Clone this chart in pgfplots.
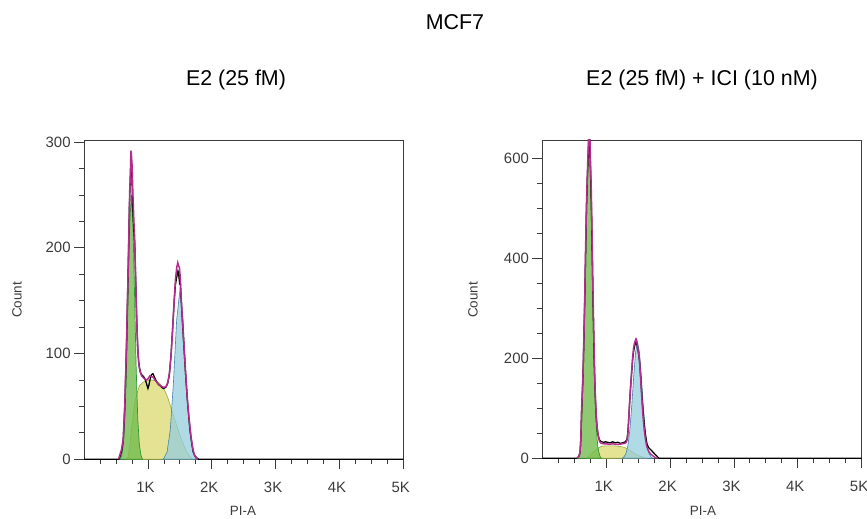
\documentclass[border=0pt]{standalone}
\usepackage{pgfplots}
\pgfplotsset{compat=1.18}
\usepackage{fontspec}
\setmainfont{Liberation Sans}

\definecolor{axgray}{RGB}{60,60,60}
\definecolor{g1fill}{RGB}{115,188,78}
\definecolor{g1line}{RGB}{50,150,50}
\definecolor{sfill}{RGB}{224,224,135}
\definecolor{sline}{RGB}{150,170,60}
\definecolor{g2fill}{RGB}{150,205,222}
\definecolor{g2line}{RGB}{70,130,170}
\definecolor{fitline}{RGB}{180,45,140}

\pgfplotsset{flowax/.style={
    scale only axis, width=319.2bp, height=319.3bp,
    xmin=0, xmax=5000, ymin=0,
    axis line style={axgray, line width=0.9bp},
    tick style={axgray, line width=0.8bp},
    tick align=outside, tick pos=left,
    major tick length=10bp, minor tick length=5bp,
    xtick={1000,2000,3000,4000,5000},
    xticklabels={1K,2K,3K,4K,5K},
    minor xtick={250,500,...,4750},
    ticklabel style={font=\fontsize{15}{17}\selectfont, text=axgray},
    xticklabel style={xshift=-2.5bp, yshift=-9bp},
    /pgf/number format/assume math mode=true,
    clip=true,
  },
  sfit/.style={fill=sfill, fill opacity=0.9, draw=sline, line width=0.6bp},
  g1fit/.style={fill=g1fill, fill opacity=0.8, draw=g1line, line width=0.7bp},
  g2fit/.style={fill=g2fill, fill opacity=0.75, draw=g2line, line width=0.6bp},
  rawdata/.style={black, line width=1.3bp},
  modelsum/.style={fitline, line width=1.5bp},
}

\begin{document}
\begin{tikzpicture}[x=1bp, y=1bp]
\useasboundingbox (0,0) rectangle (867,519);

% titles and axis labels
\node[font=\fontsize{21.5}{24}\selectfont] at (455,497) {MCF7};
\node[font=\fontsize{21.5}{24}\selectfont] at (236,439) {E2 (25 fM)};
\node[font=\fontsize{21.5}{24}\selectfont] at (702,439) {E2 (25 fM) + ICI (10 nM)};
\node[font=\fontsize{13.5}{16}\selectfont, text=axgray, rotate=90] at (17,219) {Count};
\node[font=\fontsize{13.5}{16}\selectfont, text=axgray, rotate=90] at (473,219) {Count};
\node[font=\fontsize{13.5}{16}\selectfont, text=axgray] at (243,8) {PI-A};
\node[font=\fontsize{13.5}{16}\selectfont, text=axgray] at (703,8) {PI-A};

% left: E2 (25 fM)
\begin{axis}[flowax, at={(84.1bp,59.7bp)}, anchor=south west,
  ymax=302, ytick={0,100,200,300}, minor ytick={25,50,...,300}]
\addplot[sfit] coordinates {(650,0) (690,2) (720,15) (741,28) (770,42) (793,53)
  (830,63) (871,70) (930,73) (1000,74.5) (1060,75) (1131,74) (1180,72) (1234,68)
  (1280,63) (1312,58) (1350,51) (1390,43) (1440,34) (1494,24) (1550,15)
  (1598,8) (1650,3) (1700,0)} \closedcycle;
\addplot[g1fit] coordinates {(565,0) (590,4) (615,14) (640,39) (665,88) (690,157)
  (715,223) (740,250) (765,223) (790,157) (815,88) (840,39) (865,14) (890,4)
  (915,0)} \closedcycle;
\addplot[g2fit] coordinates {(1230,0) (1250,1) (1300,7) (1350,28) (1400,73)
  (1450,132) (1500,160) (1550,132) (1600,73) (1650,28) (1700,7) (1750,1)
  (1770,0)} \closedcycle;
\addplot[rawdata] coordinates {(0,0) (545,0) (565,3) (590,8) (615,20) (640,55)
  (665,110) (690,180) (710,240) (725,268) (735,285) (745,278) (760,240)
  (780,215) (795,200) (810,165) (825,130) (840,105) (855,92) (870,86) (885,82)
  (900,80) (920,79) (945,77) (965,74) (985,70) (1000,67) (1015,70) (1035,76)
  (1055,80) (1078,81) (1100,78) (1130,74) (1160,71) (1200,69) (1240,67)
  (1280,68) (1310,72) (1335,80) (1360,97) (1385,122) (1410,148) (1430,165)
  (1450,172) (1470,178) (1480,176) (1490,170) (1500,175) (1515,158) (1540,130)
  (1565,105) (1590,80) (1615,58) (1640,40) (1665,25) (1690,14) (1715,6)
  (1740,3) (1770,1) (1800,0) (5000,0)};
\addplot[modelsum] coordinates {(540,0) (559,4) (585,9) (611,18) (637,50)
  (663,107) (689,176) (705,225) (715,255) (725,270) (733,292) (741,288)
  (750,280) (765,250) (780,225) (793,208) (806,175) (819,144) (832,118)
  (845,100) (858,90) (871,84) (900,79) (930,77) (975,75) (1000,76) (1030,79)
  (1060,78) (1078,78) (1110,75) (1150,72) (1208,69) (1250,68) (1286,69)
  (1312,73) (1338,82) (1364,100) (1390,126) (1410,150) (1431,170) (1450,181)
  (1467,186) (1480,183) (1494,181) (1507,170) (1520,154) (1546,127) (1572,100)
  (1597,76) (1623,53) (1650,35) (1676,21) (1700,11) (1727,4) (1760,1)
  (1780,0)};
\end{axis}

% right: E2 (25 fM) + ICI (10 nM)
\begin{axis}[flowax, at={(542.4bp,60.7bp)}, anchor=south west, height=318.3bp,
  ymax=637, ytick={0,200,400,600}, minor ytick={50,100,...,600}]
\addplot[sfit] coordinates {(700,0) (740,5) (780,10) (830,16) (880,21) (930,24)
  (1000,25) (1100,25) (1200,24) (1280,22) (1330,19) (1380,15) (1430,11)
  (1480,7) (1530,4) (1580,2) (1620,0)} \closedcycle;
\addplot[g1fit] coordinates {(560,0) (585,6) (600,25) (611,70) (624,115)
  (636,155) (649,225) (662,300) (675,395) (689,490) (701,550) (714,600)
  (726,640) (738,660) (752,600) (766,530) (779,430) (792,325) (805,235)
  (818,155) (831,100) (844,62) (857,38) (870,22) (885,12) (900,5) (920,0)}
  \closedcycle;
\addplot[g2fit] coordinates {(1250,0) (1280,3) (1310,10) (1340,26) (1370,58)
  (1400,106) (1430,164) (1460,213) (1490,232) (1520,213) (1550,164) (1580,106)
  (1610,58) (1640,26) (1670,10) (1700,3) (1730,0)} \closedcycle;
\addplot[rawdata] coordinates {(0,0) (545,0) (565,3) (590,12) (605,50) (615,95)
  (628,140) (640,185) (652,255) (665,330) (678,420) (690,500) (703,555)
  (716,600) (728,645) (738,650) (748,600) (760,540) (772,470) (785,370)
  (798,280) (810,200) (822,150) (835,105) (848,75) (862,55) (875,45) (890,38)
  (905,35) (930,33) (960,32) (990,33) (1020,32) (1060,31) (1100,33) (1140,31)
  (1180,32) (1220,30) (1260,31) (1300,33) (1325,38) (1340,55) (1355,85)
  (1370,120) (1385,150) (1400,175) (1415,200) (1430,215) (1445,225)
  (1460,232) (1475,230) (1490,222) (1505,210) (1520,195) (1535,170)
  (1550,140) (1565,112) (1580,88) (1595,68) (1610,50) (1625,38) (1640,28)
  (1660,22) (1690,18) (1720,14) (1750,10) (1780,6) (1810,2) (1830,0)
  (5000,0)};
\addplot[modelsum] coordinates {(540,0) (560,2) (585,8) (600,30) (611,90)
  (624,130) (636,170) (649,240) (662,316) (675,410) (689,502) (701,560)
  (714,608) (722,640) (729,660) (740,660) (752,600) (766,535) (779,440)
  (792,336) (805,250) (818,170) (831,118) (844,83) (857,62) (870,50) (883,40)
  (896,33) (920,30) (960,29) (1000,29) (1050,28) (1100,29) (1150,28)
  (1200,28) (1250,29) (1290,30) (1315,32) (1336,42) (1349,70) (1362,103)
  (1375,130) (1389,156) (1401,180) (1414,203) (1427,220) (1440,229)
  (1453,235) (1466,239) (1479,235) (1492,222) (1505,212) (1518,200)
  (1531,175) (1544,150) (1557,122) (1569,96) (1582,75) (1596,56) (1614,38)
  (1632,25) (1652,17) (1673,12) (1700,8) (1730,5) (1760,2) (1790,0)};
\end{axis}
\end{tikzpicture}
\end{document}
